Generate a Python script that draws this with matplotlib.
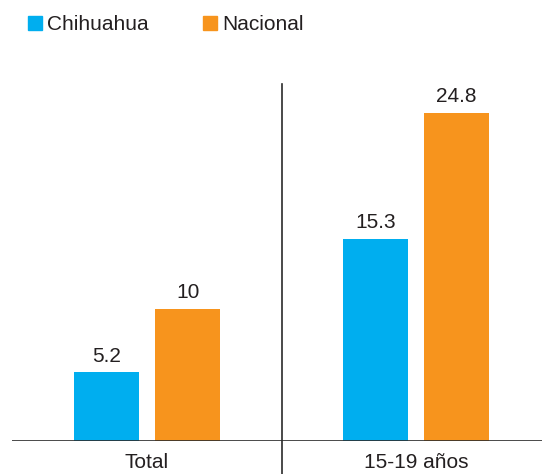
import numpy as np
import matplotlib.pyplot as plt
from matplotlib.patches import Rectangle

categories = ['Total', '15-19 años']
series_names = ['Chihuahua', 'Nacional']
chihuahua = [5.2, 15.3]
nacional = [10, 24.8]
value_labels = [['5.2', '15.3'], ['10', '24.8']]
colors = ['#00AEEF', '#F7941D']

plt.rcParams['font.family'] = ['Liberation Sans', 'DejaVu Sans']
txt = '#231F20'

W, H = 542, 474
fig = plt.figure(figsize=(W / 100, H / 100), dpi=100)
# axes spans x 12..542 px, y baseline at 441 px from top
ax = fig.add_axes([12 / W, 33 / H, 530 / W, 397 / H])

x = np.arange(len(categories))
width = 0.2416
offset = 0.1506
for i, (vals, name) in enumerate(zip([chihuahua, nacional], series_names)):
    pos = x + (offset if i else -offset)
    ax.bar(pos, vals, width, color=colors[i])
    for p, v, lab in zip(pos, vals, value_labels[i]):
        ax.text(p, v + 0.5, lab, ha='center', va='bottom', fontsize=15, color=txt)

ax.set_xlim(-0.502, 1.468)
ax.set_ylim(0, 30)
ax.axhline(0, color='#2b2b2b', lw=1.2)
ax.plot([0.5, 0.5], [27, -2.5], color='#2b2b2b', lw=1.2, clip_on=False)

for xi, c in zip(x, categories):
    ax.text(xi, -1.6, c, ha='center', va='center', fontsize=15, color=txt)

ax.axis('off')

# legend
lx = [28, 203]
for i, name in enumerate(series_names):
    fig.patches.append(Rectangle((lx[i] / W, (H - 30) / H), 14 / W, 14 / H,
                                 transform=fig.transFigure, color=colors[i]))
    fig.text((lx[i] + 19) / W, (H - 24) / H, name, ha='left', va='center',
             fontsize=15, color=txt)

plt.savefig('out.png', dpi=100)
